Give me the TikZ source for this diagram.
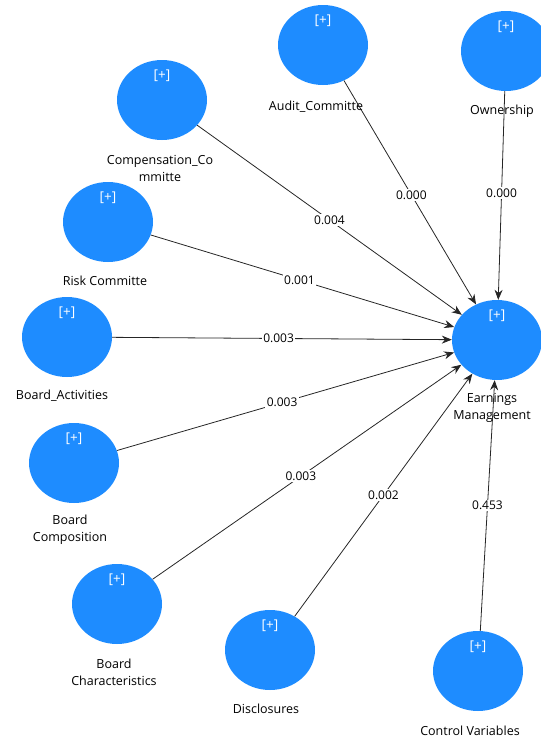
\documentclass[tikz,border=0pt]{standalone}
\usepackage{fontspec}
\setmainfont{Open Sans}
\usetikzlibrary{shapes.geometric,arrows.meta}
\definecolor{lvblue}{RGB}{30,140,255}
\tikzset{
  lv/.style={ellipse,fill=lvblue,draw=none,minimum width=90pt,minimum height=80pt,inner sep=0pt},
  plus/.style={text=white,font=\fontsize{13.5}{14}\selectfont},
  lbl/.style={font=\fontsize{12.5}{17}\selectfont,align=center,text=black},
  path/.style={draw=black!85,line width=0.8pt,-{Stealth[length=10pt,width=8pt]}},
  coef/.style={fill=white,inner sep=1.5pt,font=\fontsize{12}{13}\selectfont,text=black}
}
\begin{document}
\begin{tikzpicture}[x=1pt,y=-1pt]
\useasboundingbox (0,0) rectangle (541,740);
% latent variables
\node[lv] (aud) at (323,45) {};
\node[lv] (own) at (506,51) {};
\node[lv] (comp) at (162,100) {};
\node[lv] (risk) at (108,222) {};
\node[lv] (act) at (67,337) {};
\node[lv] (bcomp) at (74,463) {};
\node[lv] (bchar) at (117,604) {};
\node[lv] (disc) at (270,650) {};
\node[lv] (ctrl) at (478,671) {};
\node[lv] (em) at (497,340) {};
% [+] markers
\foreach \n in {aud,own,comp,risk,act,bcomp,bchar,disc,ctrl,em}
  \node[plus] (p\n) at ([yshift=-16pt]\n.north) {[+]};
% labels
\node[lbl] (laud) at (316,107) {Audit\_Committe};
\node[lbl] (lown) at (502,111) {Ownership};
\node[lbl] (lcomp) at (160,168) {Compensation\_Co\\mmitte};
\node[lbl] (lrisk) at (105,281) {Risk Committe};
\node[lbl] (lact) at (62,396) {Board\_Activities};
\node[lbl] (lbcomp) at (70,530) {Board\\Composition};
\node[lbl] (lbchar) at (114,672) {Board\\Characteristics};
\node[lbl] (ldisc) at (266,709) {Disclosures};
\node[lbl] (lctrl) at (470,731) {Control Variables};
\node[lbl] (lem) at (492,408) {Earnings\\Management};
% paths
\draw[path] (aud) -- node[coef,pos=0.51] {0.000} (em);
\draw[path] (own) -- node[coef,pos=0.49] {0.000} (em);
\draw[path] (comp) -- node[coef,pos=0.5] {0.004} (em);
\draw[path] (risk) -- node[coef,pos=0.49] {0.001} (em);
\draw[path] (act) -- node[coef,pos=0.49] {0.003} (em);
\draw[path] (bcomp) -- node[coef,pos=0.49] {0.003} (em);
\draw[path] (bchar) -- node[coef,pos=0.48] {0.003} (em);
\draw[path] (disc) -- node[coef,pos=0.5] {0.002} (em);
\draw[path] (ctrl) -- node[coef,pos=0.5] {0.453} (em);
\end{tikzpicture}
\end{document}
